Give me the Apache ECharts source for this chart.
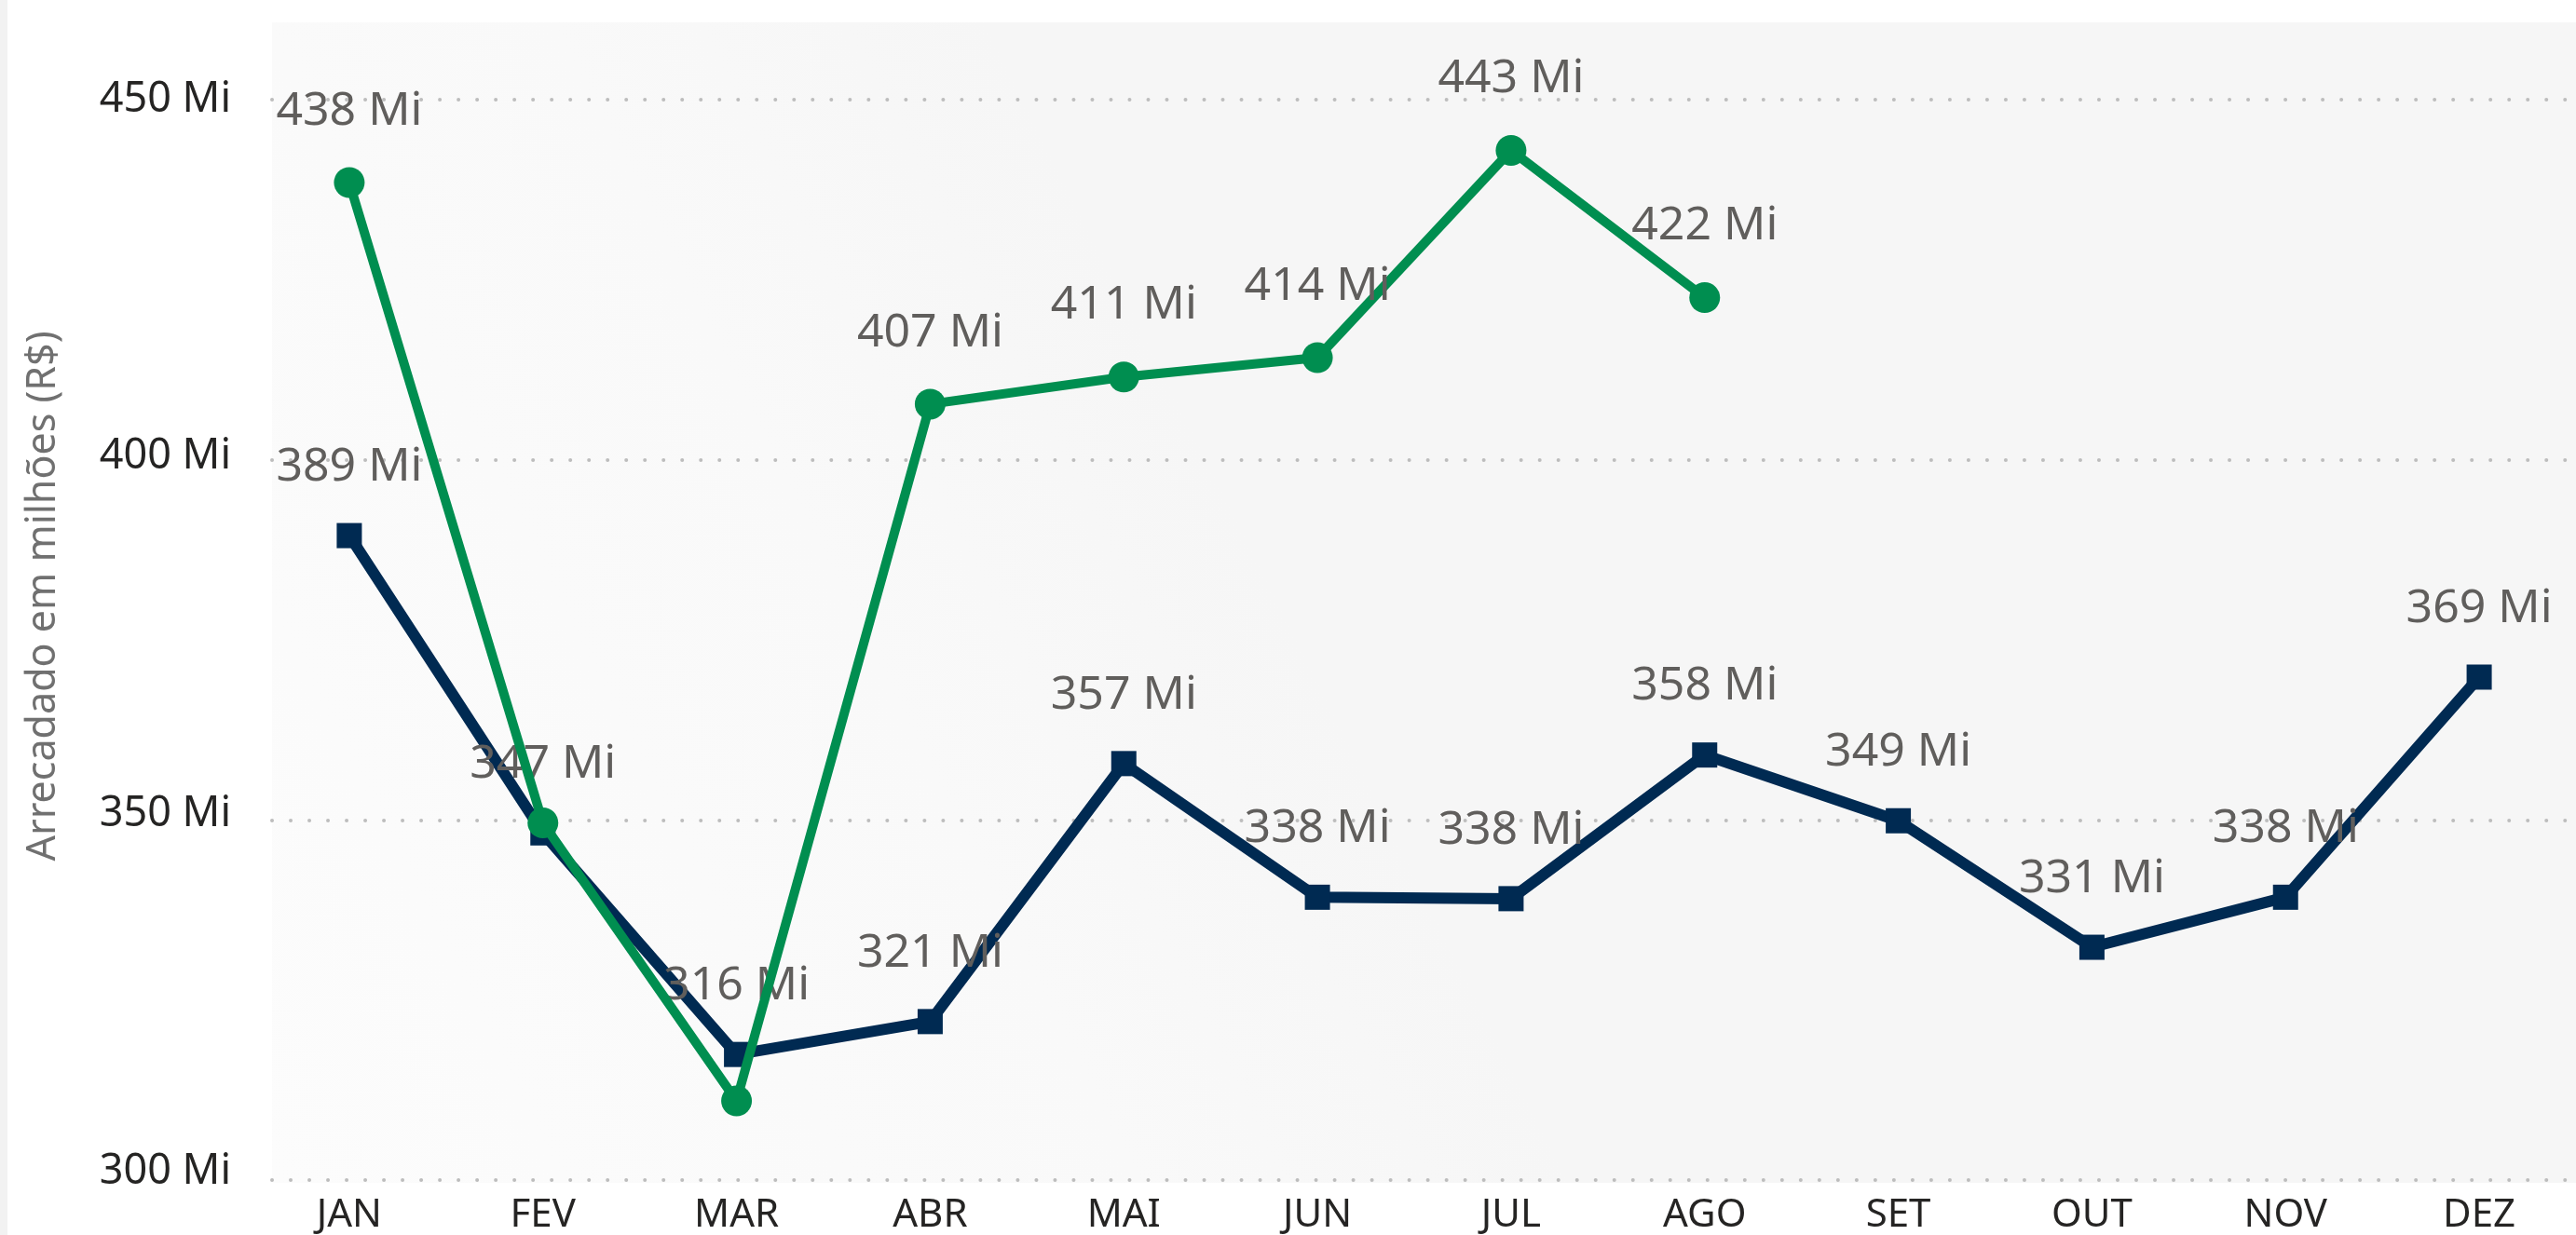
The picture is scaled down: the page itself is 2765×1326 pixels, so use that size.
<!DOCTYPE html>
<html>
<head>
<meta charset="utf-8">
<script src="https://cdn.jsdelivr.net/npm/echarts@6/dist/echarts.min.js"></script>
<style>
  html, body { margin: 0; padding: 0; background: #ffffff; }
  #chart { width: 2765px; height: 1326px; }
</style>
</head>
<body>
<div id="chart"></div>
<script>
// ---- data ----
const months = ['JAN', 'FEV', 'MAR', 'ABR', 'MAI', 'JUN', 'JUL', 'AGO', 'SET', 'OUT', 'NOV', 'DEZ'];
const serieAnterior = [389.0, 347.4, 316.4, 321.0, 357.1, 338.4, 338.2, 358.3, 349.1, 331.4, 338.4, 369.2];
const serieAtual = [438.4, 348.8, 309.9, 407.4, 411.2, 413.9, 442.9, 422.3];
const atualLabelsOcultos = ['FEV', 'MAR'];
const yTicks = [300, 350, 400, 450];
const yTitle = 'Arrecadado em milhões (R$)';

const FONT = "'Segoe UI', 'Noto Sans', sans-serif";
const fmt = v => Math.round(v) + ' Mi';

const chart = echarts.init(document.getElementById('chart'), null, { renderer: 'canvas' });

const atualData = serieAtual.map((v, i) => ({
  value: v,
  label: { show: atualLabelsOcultos.indexOf(months[i]) < 0 }
}));

const option = {
  animation: false,
  backgroundColor: '#ffffff',
  graphic: [
    { type: 'rect', silent: true, z: -10, shape: { x: 0, y: 0, width: 8, height: 1326 }, style: { fill: '#f2f2f2' } },
    {
      type: 'rect', silent: true, z: -10,
      shape: { x: 292, y: 24, width: 2473, height: 1246 },
      style: {
        fill: new echarts.graphic.LinearGradient(0, 1, 1, 0, [
          { offset: 0, color: '#fcfcfc' },
          { offset: 0.3, color: '#f9f9f9' },
          { offset: 0.45, color: '#f6f6f6' },
          { offset: 1, color: '#f6f6f6' }
        ])
      }
    },
    {
      type: 'text', silent: true, x: 47, y: 640, rotation: Math.PI / 2,
      style: { text: yTitle, fontSize: 43, fontFamily: FONT, fill: '#707070', align: 'center', verticalAlign: 'middle' }
    }
  ],
  grid: [
    { left: 271, width: 2513, top: 107, bottom: 59, containLabel: false },
    { left: 292, right: 0, top: 107, bottom: 59, containLabel: false }
  ],
  xAxis: [
    {
      type: 'category', gridIndex: 0, data: months, boundaryGap: true,
      axisLine: { show: false }, axisTick: { show: false }, splitLine: { show: false },
      axisLabel: { color: '#252423', fontSize: 42, fontFamily: FONT, margin: 26 }
    },
    { type: 'value', gridIndex: 1, show: false, min: 0, max: 1 }
  ],
  yAxis: [
    {
      type: 'value', gridIndex: 0, min: yTicks[0], max: yTicks[yTicks.length - 1], interval: 50,
      axisLine: { show: false }, axisTick: { show: false }, splitLine: { show: false },
      axisLabel: { color: '#252423', fontSize: 45, fontFamily: FONT, margin: 23, formatter: v => v + ' Mi' }
    },
    {
      type: 'value', gridIndex: 1, min: yTicks[0], max: yTicks[yTicks.length - 1], interval: 50,
      axisLine: { show: false }, axisTick: { show: false }, axisLabel: { show: false },
      splitLine: { show: true, lineStyle: { color: '#bdbdbd', width: 4, type: [0.01, 20], cap: 'round' } }
    }
  ],
  series: [
    {
      name: '2023', type: 'line', xAxisIndex: 0, yAxisIndex: 0, z: 2,
      data: serieAnterior,
      symbol: 'rect', symbolSize: 27,
      lineStyle: { color: '#002A52', width: 12 },
      itemStyle: { color: '#002A52' },
      label: { show: true, position: 'top', distance: 35, color: '#605E5C', fontSize: 50, fontFamily: FONT, formatter: p => fmt(p.value) }
    },
    {
      name: '2024', type: 'line', xAxisIndex: 0, yAxisIndex: 0, z: 3,
      data: atualData,
      symbol: 'circle', symbolSize: 33,
      lineStyle: { color: '#008E50', width: 10 },
      itemStyle: { color: '#008E50' },
      label: { show: true, position: 'top', distance: 35, color: '#605E5C', fontSize: 50, fontFamily: FONT, formatter: p => fmt(p.value) }
    }
  ]
};

chart.setOption(option);
</script>
</body>
</html>
